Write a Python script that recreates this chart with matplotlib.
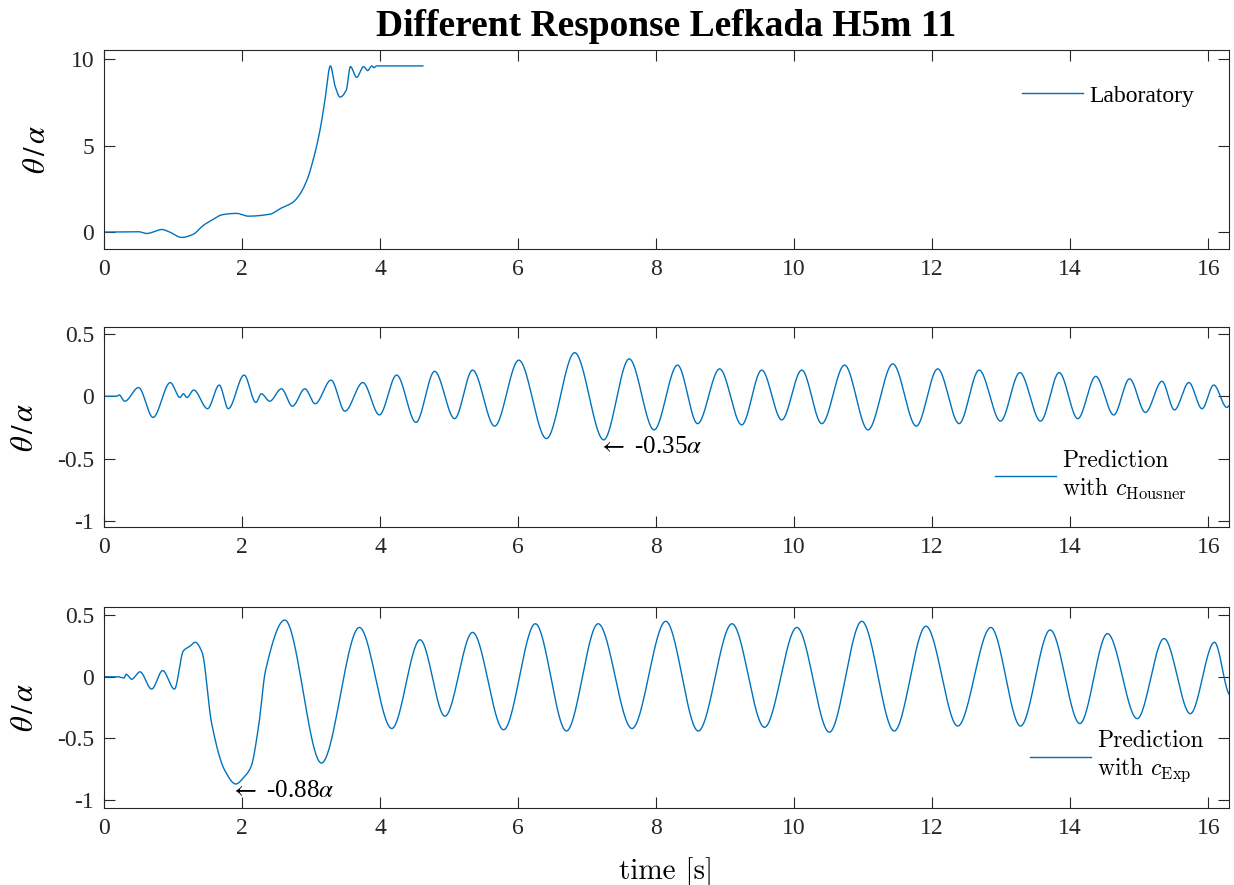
import numpy as np
from matplotlib import pyplot as plt
from matplotlib.font_manager import FontProperties


# values (time in s, response in theta/alpha)
lab_t = [0.0, 0.50, 0.62, 0.84, 0.93, 1.13, 1.29, 1.44, 1.58, 1.71, 1.92, 2.09,
         2.41, 2.55, 2.74, 2.84, 2.94, 3.03, 3.13, 3.20, 3.28, 3.35, 3.42, 3.51,
         3.57, 3.66, 3.76, 3.82, 3.88, 3.91, 3.95, 4.62]
lab_y = [0.0, 0.02, -0.08, 0.15, 0.04, -0.31, -0.13, 0.39, 0.73, 1.00, 1.08, 0.92,
         1.04, 1.35, 1.73, 2.20, 3.00, 4.16, 5.90, 7.60, 9.60, 8.40, 7.80, 8.20,
         9.56, 8.94, 9.56, 9.33, 9.60, 9.50, 9.60, 9.60]

housner_t = [0.0, 0.18, 0.22, 0.30, 0.50, 0.71, 0.96, 1.10, 1.15, 1.20, 1.30,
             1.50, 1.67, 1.80, 2.03, 2.20, 2.28, 2.40, 2.57, 2.73, 2.91, 3.06,
             3.29, 3.49, 3.75, 3.99, 4.24, 4.52, 4.79, 5.08, 5.34, 5.66, 6.01,
             6.41, 6.82, 7.24, 7.61, 7.97, 8.31, 8.60, 8.92, 9.24, 9.53, 9.82,
             10.11, 10.40, 10.73, 11.07, 11.43, 11.77, 12.08, 12.39, 12.68,
             12.99, 13.27, 13.57, 13.84, 14.11, 14.37, 14.63, 14.86, 15.09,
             15.33, 15.51, 15.72, 15.91, 16.08, 16.27, 16.32]
housner_y = [0.0, 0.0, 0.01, -0.04, 0.07, -0.17, 0.11, -0.01, 0.02, -0.01, 0.05,
             -0.10, 0.09, -0.10, 0.17, -0.05, 0.02, -0.04, 0.06, -0.08, 0.06,
             -0.06, 0.13, -0.12, 0.11, -0.15, 0.17, -0.21, 0.20, -0.18, 0.21,
             -0.24, 0.29, -0.34, 0.35, -0.35, 0.30, -0.27, 0.25, -0.22, 0.22,
             -0.23, 0.21, -0.19, 0.21, -0.22, 0.25, -0.27, 0.26, -0.24, 0.22,
             -0.22, 0.21, -0.20, 0.19, -0.20, 0.19, -0.18, 0.16, -0.15, 0.14,
             -0.13, 0.12, -0.11, 0.11, -0.10, 0.09, -0.09, -0.07]

exp_t = [0.0, 0.20, 0.29, 0.32, 0.40, 0.52, 0.69, 0.85, 1.02, 1.15, 1.25, 1.32,
         1.42, 1.56, 1.75, 1.91, 2.02, 2.13, 2.24, 2.34, 2.62, 3.15,
         3.70, 4.17, 4.58, 4.94, 5.34, 5.79, 6.25, 6.70, 7.16, 7.65, 8.14, 8.61,
         9.10, 9.57, 10.04, 10.51, 10.98, 11.45, 11.91, 12.37, 12.85, 13.28,
         13.71, 14.14, 14.54, 14.97, 15.36, 15.74, 16.09, 16.32]
exp_y = [0.0, 0.0, -0.01, 0.02, -0.02, 0.04, -0.10, 0.05, -0.10, 0.21, 0.25,
         0.28, 0.20, -0.38, -0.76, -0.87, -0.82, -0.73, -0.40,
         0.05, 0.46, -0.70, 0.40, -0.42, 0.30, -0.32, 0.36, -0.43, 0.43, -0.44,
         0.43, -0.42, 0.45, -0.44, 0.43, -0.41, 0.40, -0.45, 0.45, -0.44, 0.41,
         -0.40, 0.40, -0.40, 0.38, -0.38, 0.35, -0.34, 0.31, -0.30, 0.28, -0.15]

time_ticks = [0, 2, 4, 6, 8, 10, 12, 14, 16]
small_ticks = [-1, -0.5, 0, 0.5]
small_tick_labels = ["-1", "-0.5", "0", "0.5"]

BLUE = (0, 0.447, 0.741)
DARK = (0.15, 0.15, 0.15)
SERIF = "Liberation Serif"


def pchip(x, y, xs):
    # monotone cubic through the read points, so the drawn line is smooth
    x = np.asarray(x, float)
    y = np.asarray(y, float)
    h = np.diff(x)
    d = np.diff(y) / h
    m = np.zeros_like(y)
    for k in range(1, len(x) - 1):
        if d[k - 1] * d[k] > 0:
            w1 = 2 * h[k] + h[k - 1]
            w2 = h[k] + 2 * h[k - 1]
            m[k] = (w1 + w2) / (w1 / d[k - 1] + w2 / d[k])
    idx = np.clip(np.searchsorted(x, xs) - 1, 0, len(h) - 1)
    t = (xs - x[idx]) / h[idx]
    h00 = 2 * t**3 - 3 * t**2 + 1
    h10 = t**3 - 2 * t**2 + t
    h01 = -2 * t**3 + 3 * t**2
    h11 = t**3 - t**2
    return (h00 * y[idx] + h10 * h[idx] * m[idx] + h01 * y[idx + 1]
            + h11 * h[idx] * m[idx + 1])


def smooth(t, y):
    ts = np.linspace(t[0], t[-1], 4000)
    return ts, pchip(t, y, ts)


def style_axes(ax):
    for sp in ax.spines.values():
        sp.set_color(DARK)
        sp.set_linewidth(0.8)
    ax.tick_params(direction="in", length=8, width=0.8, colors=DARK,
                   top=True, right=True, labelsize=17, pad=7)
    ax.set_xlim(0, 16.3)
    ax.set_xticks(time_ticks)
    ax.set_xticklabels([str(v) for v in time_ticks], fontfamily=SERIF)


def mark_min(ax, t, y, text):
    k = int(np.argmin(y))
    ax.annotate(text, xy=(t[k], y[k]), xytext=(-4, -5),
                textcoords="offset points", fontfamily=SERIF, fontsize=18,
                ha="left", va="center")


plt.rcParams["mathtext.fontset"] = "stix"
fig = plt.figure(figsize=(12.34, 8.85), dpi=100)
W = 0.9116
ax1 = fig.add_axes([0.0843, 0.7186, W, 0.2249])
ax2 = fig.add_axes([0.0843, 0.4045, W, 0.226])
ax3 = fig.add_axes([0.0843, 0.0870, W, 0.227])

cm_prop = FontProperties(family="cmr10", size=17, math_fontfamily="cm")
ylab = r"$\theta\,/\,\alpha$"

# laboratory
ax1.plot(*smooth(lab_t, lab_y), color=BLUE, lw=1.0, label="Laboratory")
style_axes(ax1)
ax1.set_ylim(-0.98, 10.52)
ax1.set_yticks([0, 5, 10])
ax1.set_yticklabels(["0", "5", "10"], fontfamily=SERIF)
ax1.set_ylabel(ylab, fontsize=22)
ax1.yaxis.set_label_coords(-0.047, 0.5)
ax1.legend(loc="center left", bbox_to_anchor=(0.816, 0.769), frameon=False,
           prop=FontProperties(family=SERIF, size=17), handlelength=2.6,
           handletextpad=0.25, borderpad=0, borderaxespad=0)
ax1.set_title("Different Response Lefkada H5m 11", fontfamily=SERIF,
              fontsize=27, fontweight="bold", pad=10)

# prediction with Housner restitution
ax2.plot(*smooth(housner_t, housner_y), color=BLUE, lw=1.0,
         label="Prediction\nwith $c_{\\mathrm{Housner}}$")
style_axes(ax2)
ax2.set_ylim(-1.05, 0.556)
ax2.set_yticks(small_ticks)
ax2.set_yticklabels(small_tick_labels, fontfamily=SERIF)
ax2.set_ylabel(ylab, fontsize=22)
ax2.yaxis.set_label_coords(-0.058, 0.5)
ax2.legend(loc="center left", bbox_to_anchor=(0.792, 0.255), frameon=False,
           prop=cm_prop, handlelength=2.6, handletextpad=0.25,
           borderpad=0, borderaxespad=0)
mark_min(ax2, housner_t, housner_y, r"$\leftarrow$ -0.35$\alpha$")

# prediction with experimental restitution
ax3.plot(*smooth(exp_t, exp_y), color=BLUE, lw=1.0,
         label="Prediction\nwith $c_{\\mathrm{Exp}}$")
style_axes(ax3)
ax3.set_ylim(-1.065, 0.565)
ax3.set_yticks(small_ticks)
ax3.set_yticklabels(small_tick_labels, fontfamily=SERIF)
ax3.set_ylabel(ylab, fontsize=22)
ax3.yaxis.set_label_coords(-0.058, 0.5)
ax3.legend(loc="center left", bbox_to_anchor=(0.823, 0.254), frameon=False,
           prop=cm_prop, handlelength=2.6, handletextpad=0.25,
           borderpad=0, borderaxespad=0)
mark_min(ax3, exp_t, exp_y, r"$\leftarrow$ -0.88$\alpha$")
ax3.set_xlabel("time [s]", fontfamily="cmr10", fontsize=21, labelpad=13)

fig.savefig("out.png", dpi=100)
